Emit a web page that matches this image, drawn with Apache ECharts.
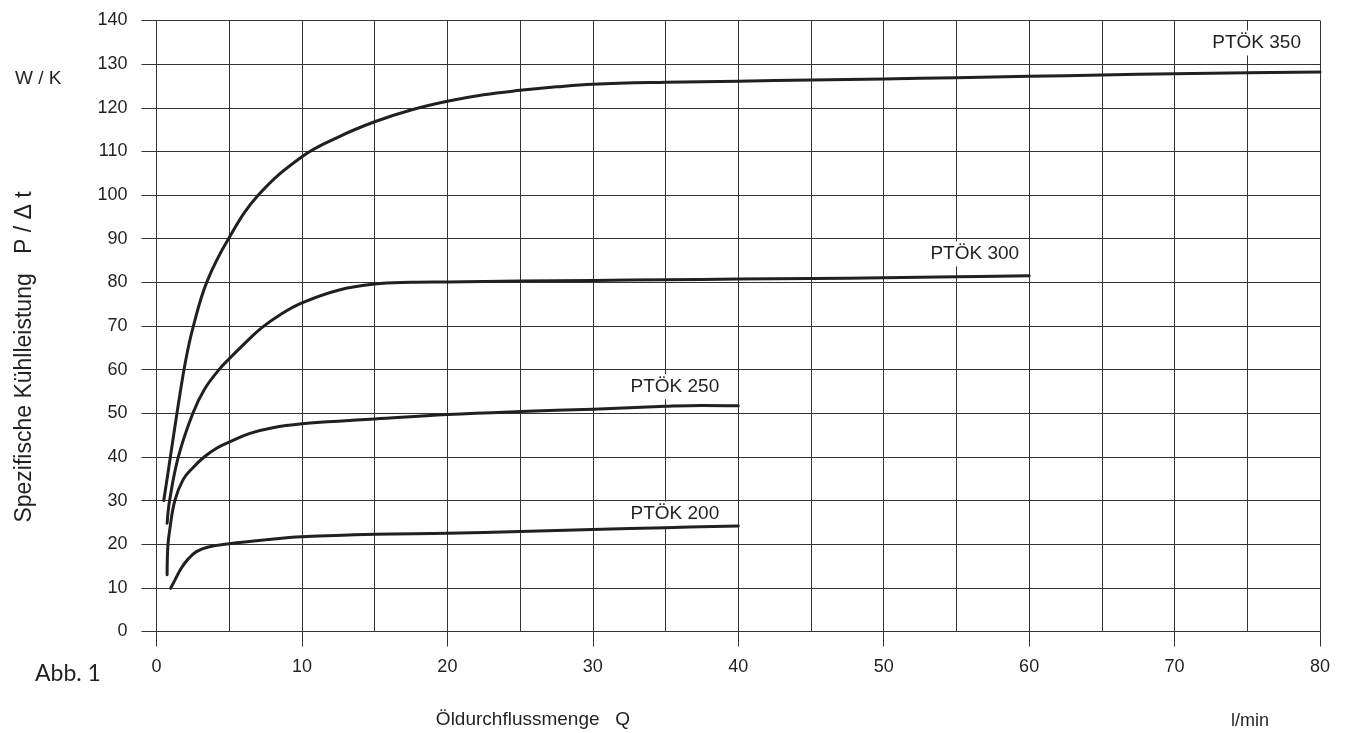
<!DOCTYPE html>
<html>
<head>
<meta charset="utf-8">
<script src="https://cdn.jsdelivr.net/npm/echarts@6/dist/echarts.min.js"></script>
<style>
html,body{margin:0;padding:0;background:#fff;}
#c{width:1352px;height:733px;}
</style>
</head>
<body>
<div id="c"></div>
<script>
// ---- data ----
const seriesNames = ['PTÖK 350', 'PTÖK 300', 'PTÖK 250', 'PTÖK 200'];

const q350 = [0.5, 1.0, 1.5, 2.0, 2.5, 3.45, 4.95, 7.0, 10, 12.5, 15, 17.5, 20, 22.5, 25, 27.5, 30, 35, 40, 45, 50, 55, 60, 65, 70, 75, 80];
const p350 = [30, 41, 52, 62, 69.5, 80, 90, 100, 108.8, 113.3, 116.8, 119.5, 121.5, 123, 124, 124.8, 125.4, 125.85, 126.1, 126.35, 126.6, 126.9, 127.2, 127.5, 127.8, 128.0, 128.2];

const q300 = [0.73, 0.9, 1.5, 2.5, 3.3, 4.3, 5, 6, 7.2, 8.5, 10, 12.5, 15, 17.5, 20, 25, 30, 35, 40, 45, 50, 55, 60];
const p300 = [24.8, 30, 40, 50, 55.5, 60, 62.5, 65.8, 69.5, 72.6, 75.3, 78.2, 79.6, 80.0, 80.1, 80.3, 80.45, 80.6, 80.75, 80.9, 81.05, 81.3, 81.5];

const q250 = [0.73, 0.78, 0.91, 1.26, 1.83, 2.52, 3.32, 4.13, 5, 6.42, 8, 10, 12.5, 15, 20, 25, 30, 35, 37.5, 40];
const p250 = [13, 19.5, 23.3, 30, 34.8, 37.6, 40.1, 42.0, 43.4, 45.4, 46.7, 47.6, 48.2, 48.7, 49.7, 50.4, 50.95, 51.6, 51.8, 51.7];

const q200 = [0.97, 1.3, 1.7, 2.2, 2.75, 3.5, 5, 7.5, 10, 15, 20, 25, 30, 35, 40];
const p200 = [9.9, 12, 14.5, 16.7, 18.3, 19.3, 20.1, 21.0, 21.7, 22.3, 22.5, 22.9, 23.4, 23.8, 24.2];

const xTicks = [0, 10, 20, 30, 40, 50, 60, 70, 80];
const yTicks = [0, 10, 20, 30, 40, 50, 60, 70, 80, 90, 100, 110, 120, 130, 140];

const xTitle = 'Öldurchflussmenge   Q';
const xUnit = 'l/min';
const yTitle = 'Spezifische Kühlleistung   P / Δ t';
const yUnit = 'W / K';
const figLabel = 'Abb. 1';

// ---- chart ----
const FONT = "'Liberation Sans', Arial, sans-serif";
const INK = '#231f20';
const GRID = '#333333';

function zip(xs, ys) { return xs.map((x, i) => [x, ys[i]]); }
const allData = [zip(q350, p350), zip(q300, p300), zip(q250, p250), zip(q200, p200)];

const chart = echarts.init(document.getElementById('c'), null, {renderer: 'canvas'});

const option = {
  animation: false,
  backgroundColor: '#fff',
  grid: {left: 156.5, right: 32, top: 20.5, bottom: 101.5, containLabel: false},
  xAxis: {
    type: 'value',
    min: xTicks[0], max: xTicks[xTicks.length - 1], interval: 10,
    axisLine: {show: true, lineStyle: {color: GRID, width: 1}},
    axisTick: {show: true, length: 15, lineStyle: {color: GRID, width: 1}},
    axisLabel: {show: true, margin: 27, color: INK, fontSize: 18, fontFamily: FONT},
    splitLine: {show: true, lineStyle: {color: GRID, width: 1}},
    minorTick: {show: false, splitNumber: 2},
    minorSplitLine: {show: true, lineStyle: {color: GRID, width: 1}}
  },
  yAxis: {
    type: 'value',
    min: yTicks[0], max: yTicks[yTicks.length - 1], interval: 10,
    axisLine: {show: true, lineStyle: {color: GRID, width: 1}},
    axisTick: {show: true, length: 15, lineStyle: {color: GRID, width: 1}},
    axisLabel: {show: true, margin: 29, color: INK, fontSize: 18, fontFamily: FONT},
    splitLine: {show: true, lineStyle: {color: GRID, width: 1}}
  },
  series: allData.map((d, i) => ({
    name: seriesNames[i],
    type: 'line',
    data: d,
    showSymbol: false,
    symbol: 'none',
    smooth: 0.4,
    lineStyle: {color: INK, width: 3, cap: 'round', join: 'round'},
    z: 5
  })),
  graphic: [
    {type: 'text', x: 15, y: 79, style: {text: yUnit, font: '19px ' + FONT, fill: INK, textAlign: 'left', textVerticalAlign: 'middle'}},
    {type: 'text', x: 25, y: 357, rotation: Math.PI / 2, style: {text: yTitle, font: '23px ' + FONT, fill: INK, textAlign: 'center', textVerticalAlign: 'middle'}},
    {type: 'text', x: 533, y: 720, style: {text: xTitle, font: '19px ' + FONT, fill: INK, textAlign: 'center', textVerticalAlign: 'middle'}},
    {type: 'text', x: 1250, y: 721, style: {text: xUnit, font: '18px ' + FONT, fill: INK, textAlign: 'center', textVerticalAlign: 'middle'}},
    {type: 'text', x: 35, y: 674, style: {text: figLabel, font: "23px Lato, 'DejaVu Sans', sans-serif", fill: INK, textAlign: 'left', textVerticalAlign: 'middle'}}
  ]
};
chart.setOption(option);

// series name labels placed relative to each curve's last point
const labelOffsets = [[-16, -29], [-7, -22], [-16, -19], [-16, -12]];
const labelGraphics = allData.map((d, i) => {
  const p = chart.convertToPixel({gridIndex: 0}, d[d.length - 1]);
  return {
    type: 'text', z: 3,
    x: p[0] + labelOffsets[i][0], y: p[1] + labelOffsets[i][1],
    style: {text: seriesNames[i], font: '19px ' + FONT, fill: INK, textAlign: 'right', textVerticalAlign: 'middle',
            backgroundColor: '#fff', padding: [3, 3, 3, 3]}
  };
});
chart.setOption({graphic: option.graphic.concat(labelGraphics)});
</script>
</body>
</html>
